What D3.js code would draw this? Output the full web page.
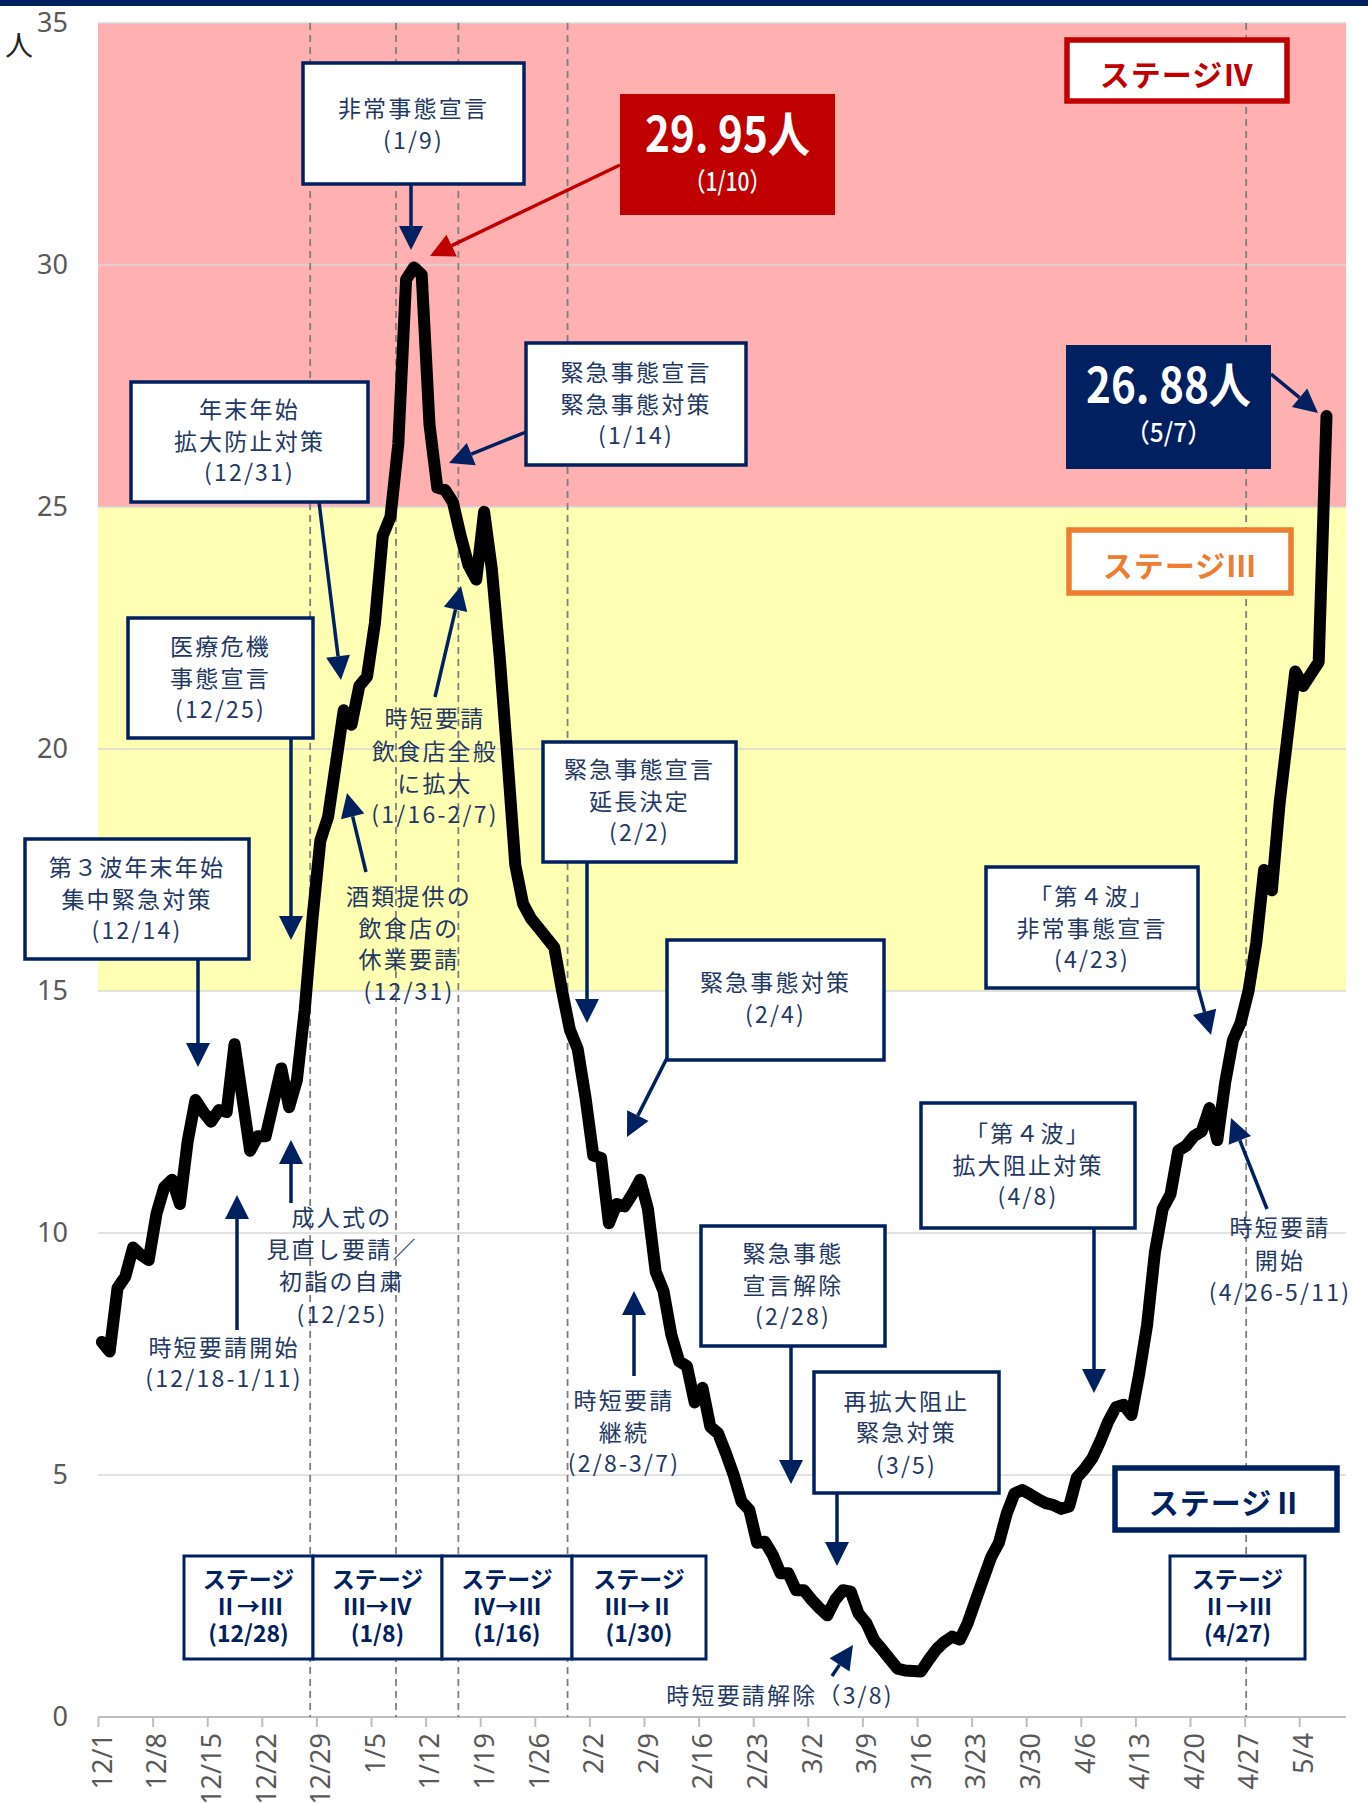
<!DOCTYPE html>
<html>
<head>
<meta charset="utf-8">
<script src="https://cdn.jsdelivr.net/npm/d3@7"></script>
<style>
  html, body { margin: 0; padding: 0; background: #fff; }
  svg { display: block; }
</style>
</head>
<body>
<svg id="chart"></svg>
<script>
// 1日ごとの値 (12/1 〜 5/7)
const startDate = new Date(2020, 11, 1);
const values = [
  7.75, 7.55, 8.86, 9.1, 9.7, 9.55, 9.44, 10.4, 10.95, 11.1,
  10.6, 11.9, 12.75, 12.5, 12.3, 12.54, 12.5, 13.9, 12.8, 11.7,
  12.0, 12.0, 12.7, 13.4, 12.6, 13.16, 14.6, 16.5, 18.1, 18.6,
  19.7, 20.8, 20.5, 21.3, 21.5, 22.6, 24.4, 24.8, 26.3, 29.7,
  29.95, 29.8, 26.7, 25.4, 25.35, 25.1, 24.4, 23.8, 23.5, 24.9,
  23.7, 21.9, 19.8, 17.6, 16.8, 16.5, 16.3, 16.1, 15.9, 15.0,
  14.2, 13.8, 12.8, 11.6, 11.55, 10.2, 10.6, 10.55, 10.8, 11.1,
  10.5, 9.2, 8.8, 7.9, 7.35, 7.25, 6.5, 6.8, 6.0, 5.86,
  5.45, 5.0, 4.45, 4.28, 3.6, 3.62, 3.35, 2.97, 2.97, 2.62,
  2.62, 2.42, 2.25, 2.1, 2.42, 2.62, 2.59, 2.14, 1.94, 1.59,
  1.4, 1.2, 1.0, 0.96, 0.95, 0.94, 1.18, 1.4, 1.55, 1.66,
  1.6, 1.94, 2.4, 2.85, 3.3, 3.6, 4.2, 4.62, 4.69, 4.6,
  4.5, 4.42, 4.38, 4.3, 4.35, 4.95, 5.13, 5.35, 5.7, 6.1,
  6.4, 6.45, 6.24, 7.1, 8.1, 9.6, 10.5, 10.8, 11.7, 11.8,
  12.0, 12.1, 12.58, 11.92, 13.1, 13.98, 14.35, 15.0, 16.0, 17.5,
  17.08, 18.9, 20.25, 21.6, 21.3, 21.55, 21.8, 26.88
];

// 目盛ラベル (7日おき)
const tickLabels = ["12/1","12/8","12/15","12/22","12/29","1/5","1/12","1/19","1/26",
  "2/2","2/9","2/16","2/23","3/2","3/9","3/16","3/23","3/30","4/6","4/13","4/20","4/27","5/4"];
const yTicks = [0, 5, 10, 15, 20, 25, 30, 35];

// ステージの区分
const stageLimits = [15, 25, 35];
const stageDates = ["12/28", "1/8", "1/16", "1/30", "4/27"];
const stageSteps = ["Ⅱ→Ⅲ", "Ⅲ→Ⅳ", "Ⅳ→Ⅲ", "Ⅲ→Ⅱ", "Ⅱ→Ⅲ"];

const NAVY = "#002060";
const TEXT = "#1F3864";
const JP = "'Noto Sans CJK JP', 'Noto Sans', sans-serif";

function dayIndex(md) {
  const [m, d] = md.split("/").map(Number);
  return d3.timeDay.count(startDate, new Date(m === 12 ? 2020 : 2021, m - 1, d));
}

const svg = d3.select("#chart").attr("width", 1368).attr("height", 1805);

const x = d3.scaleLinear().domain([-0.5, 159.5]).range([98, 1346]);
const y = d3.scaleLinear().domain([0, 35]).range([1717, 23]);
const half = (x(1) - x(0)) / 2;

// 上の帯
svg.append("rect").attr("x", 0).attr("y", 0).attr("width", 1368).attr("height", 6).attr("fill", NAVY);

// ステージ背景
svg.append("rect")
  .attr("x", x.range()[0]).attr("width", x.range()[1] - x.range()[0])
  .attr("y", y(stageLimits[2])).attr("height", y(stageLimits[1]) - y(stageLimits[2]))
  .attr("fill", "#FFB0B0");
svg.append("rect")
  .attr("x", x.range()[0]).attr("width", x.range()[1] - x.range()[0])
  .attr("y", y(stageLimits[1])).attr("height", y(stageLimits[0]) - y(stageLimits[1]))
  .attr("fill", "#FFFFB3");

// 横の目盛線
svg.append("g").selectAll("line")
  .data(yTicks.filter(v => v > 0))
  .join("line")
  .attr("x1", x.range()[0]).attr("x2", x.range()[1])
  .attr("y1", d => y(d)).attr("y2", d => y(d))
  .attr("stroke", "#D9D9D9").attr("stroke-width", 1.5);

// y軸
const yAxis = svg.append("g")
  .attr("transform", "translate(68,0)")
  .call(d3.axisLeft(y).tickValues(yTicks).tickSize(0).tickPadding(0));
yAxis.select(".domain").remove();
yAxis.selectAll("text")
  .attr("font-family", "'Noto Sans', sans-serif").attr("font-size", 27).attr("fill", "#595959");

svg.append("text").attr("x", 19).attr("y", 56).attr("text-anchor", "middle")
  .attr("font-family", JP).attr("font-size", 28).attr("fill", "#222").text("人");

// x軸
const xAxis = svg.append("g")
  .attr("transform", `translate(0,${y(0)})`)
  .call(d3.axisBottom(x)
    .tickValues(tickLabels.map((_, i) => i * 7))
    .tickFormat((d, i) => tickLabels[i])
    .tickSizeOuter(0).tickSize(10));
xAxis.select(".domain")
  .attr("d", `M${x.range()[0]},0H${x.range()[1]}`)
  .attr("stroke", "#BFBFBF").attr("stroke-width", 2);
xAxis.selectAll(".tick line")
  .attr("transform", `translate(${-half},0)`)
  .attr("stroke", "#BFBFBF").attr("stroke-width", 2);
xAxis.selectAll(".tick text")
  .attr("transform", "rotate(-90)")
  .attr("text-anchor", "end")
  .attr("x", -16).attr("y", 0).attr("dy", "0.35em")
  .attr("font-family", "'Noto Sans', sans-serif").attr("font-size", 27).attr("fill", "#595959");

// ステージ変更日の点線
svg.append("g").selectAll("line")
  .data(stageDates)
  .join("line")
  .attr("x1", d => x(dayIndex(d) - 0.3)).attr("x2", d => x(dayIndex(d) - 0.3))
  .attr("y1", y(35)).attr("y2", y(0))
  .attr("stroke", "#7F7F7F").attr("stroke-width", 1.8).attr("stroke-dasharray", "7,5");

// 折れ線
const line = d3.line().x((d, i) => x(i)).y(d => y(d));
svg.append("path")
  .datum(values)
  .attr("d", line)
  .attr("fill", "none")
  .attr("stroke", "#000")
  .attr("stroke-width", 12)
  .attr("stroke-linejoin", "round")
  .attr("stroke-linecap", "round");

// 注記
const ann = svg.append("g");

function arrow(x1, y1, x2, y2, color) {
  const a = Math.atan2(y2 - y1, x2 - x1);
  const L = 24, W = 12;
  const bx = x2 - L * Math.cos(a), by = y2 - L * Math.sin(a);
  ann.append("line").attr("x1", x1).attr("y1", y1).attr("x2", bx).attr("y2", by)
    .attr("stroke", color).attr("stroke-width", 3.5);
  const px = -Math.sin(a) * W, py = Math.cos(a) * W;
  ann.append("path")
    .attr("d", `M${x2},${y2}L${bx + px},${by + py}L${bx - px},${by - py}Z`)
    .attr("fill", color);
}

function lines(cx, ys, texts, opt = {}) {
  texts.forEach((t, i) => {
    ann.append("text")
      .attr("x", cx).attr("y", ys[i])
      .attr("text-anchor", "middle").attr("dominant-baseline", "central")
      .attr("font-family", JP)
      .attr("font-size", opt.size || 23)
      .attr("font-weight", opt.weight || 400)
      .attr("letter-spacing", opt.spacing == null ? 2.2 : opt.spacing)
      .attr("fill", opt.color || TEXT)
      .text(t);
  });
}

function box(bx, by, w, h, texts, ys, opt = {}) {
  ann.append("rect").attr("x", bx).attr("y", by).attr("width", w).attr("height", h)
    .attr("fill", opt.fill || "#fff")
    .attr("stroke", opt.stroke || NAVY).attr("stroke-width", opt.sw || 3.5);
  lines(bx + w / 2, ys, texts, opt);
}

const boxes = [
  [303, 63, 221, 121, ["非常事態宣言", "(1/9)"], [107, 139]],
  [131, 382, 237, 120, ["年末年始", "拡大防止対策", "(12/31)"], [408, 440, 471]],
  [526, 343, 220, 122, ["緊急事態宣言", "緊急事態対策", "(1/14)"], [371, 403, 434]],
  [128, 618, 185, 120, ["医療危機", "事態宣言", "(12/25)"], [645, 677, 708]],
  [25, 839, 224, 120, ["第３波年末年始", "集中緊急対策", "(12/14)"], [866, 898, 929]],
  [543, 742, 193, 120, ["緊急事態宣言", "延長決定", "(2/2)"], [768, 800, 831]],
  [667, 940, 217, 120, ["緊急事態対策", "(2/4)"], [981, 1013]],
  [986, 867, 212, 121, ["「第４波」", "非常事態宣言", "(4/23)"], [895, 927, 958]],
  [921, 1103, 214, 125, ["「第４波」", "拡大阻止対策", "(4/8)"], [1132, 1164, 1195]],
  [701, 1226, 184, 120, ["緊急事態", "宣言解除", "(2/28)"], [1252, 1284, 1315]],
  [814, 1372, 185, 121, ["再拡大阻止", "緊急対策", "(3/5)"], [1400, 1431, 1464]]
];
boxes.forEach(b => box(...b));

const notes = [
  [435, ["時短要請", "飲食店全般", "に拡大", "(1/16-2/7)"], [717, 750, 782, 813]],
  [409, ["酒類提供の", "飲食店の", "休業要請", "(12/31)"], [895, 927, 958, 990]],
  [1280, ["時短要請", "開始", "(4/26-5/11)"], [1226, 1259, 1291]],
  [342, ["成人式の", "見直し要請／", "初詣の自粛", "(12/25)"], [1216, 1248, 1280, 1313]],
  [224, ["時短要請開始", "(12/18-1/11)"], [1346, 1377]],
  [624, ["時短要請", "継続", "(2/8-3/7)"], [1399, 1431, 1462]],
  [780, ["時短要請解除（3/8)"], [1694]]
];
notes.forEach(n => lines(n[0], n[2], n[1]));

const arrows = [
  [411, 184, 411, 250], [319, 502, 341, 680], [526, 432, 449, 463], [291, 738, 291, 940],
  [198, 959, 198, 1067], [435, 697, 461, 586], [366, 872, 347, 793], [587, 861, 587, 1023],
  [667, 1058, 627, 1137], [1198, 988, 1211, 1035], [1094, 1228, 1094, 1393], [1267, 1209, 1231, 1118],
  [291, 1203, 291, 1140], [237, 1330, 237, 1195], [634, 1376, 634, 1291], [791, 1346, 791, 1484],
  [837, 1493, 837, 1566], [832, 1676, 853, 1645], [1271, 374, 1318, 413]
];
arrows.forEach(a => arrow(...a, NAVY));
arrow(620, 165, 430, 256, "#C00000");

// 最大値・最新値
const peakIdx = values.indexOf(d3.max(values.slice(0, 60)));
const lastIdx = values.length - 1;
function fmtDate(i) { return d3.timeFormat("%-m/%-d")(d3.timeDay.offset(startDate, i)); }

function bigBox(bx, by, w, h, fill, v, i) {
  ann.append("rect").attr("x", bx).attr("y", by).attr("width", w).attr("height", h).attr("fill", fill);
  ann.append("text")
    .attr("x", bx + w / 2).attr("y", by + 58)
    .attr("text-anchor", "middle")
    .attr("font-family", JP).attr("font-weight", 700).attr("font-size", 48)
    .attr("textLength", 165).attr("lengthAdjust", "spacingAndGlyphs")
    .attr("fill", "#fff")
    .text(v.toFixed(2).replace(".", ". ") + "人");
  ann.append("text")
    .attr("x", bx + w / 2).attr("y", by + 97)
    .attr("text-anchor", "middle")
    .attr("font-family", JP).attr("font-weight", 500).attr("font-size", 26)
    .attr("textLength", 86).attr("lengthAdjust", "spacingAndGlyphs")
    .attr("fill", "#fff")
    .text("（" + fmtDate(i) + "）");
}
bigBox(620, 94, 215, 121, "#C00000", values[peakIdx], peakIdx);
bigBox(1066, 345, 205, 124, NAVY, values[lastIdx], lastIdx);

// ステージ表示
function stageLabel(bx, by, w, h, color, label) {
  ann.append("rect").attr("x", bx).attr("y", by).attr("width", w).attr("height", h)
    .attr("fill", "#fff").attr("stroke", color).attr("stroke-width", 5.5);
  ann.append("text")
    .attr("x", bx + w / 2).attr("y", by + h / 2 + 2)
    .attr("text-anchor", "middle").attr("dominant-baseline", "central")
    .attr("font-family", JP).attr("font-weight", 700).attr("font-size", 30)
    .attr("letter-spacing", 1)
    .attr("fill", color).text(label);
}
stageLabel(1067, 40, 220, 61, "#C00000", "ステージⅣ");
stageLabel(1069, 530, 222, 63, "#ED7D31", "ステージⅢ");
stageLabel(1115, 1468, 222, 62, NAVY, "ステージⅡ");

// ステージ変更の箱 (1つのtextにtspanで3行)
const stageBoxX = [[184, 313], [313, 442], [442, 572], [572, 706], [1170, 1305]];
stageDates.forEach((d, i) => {
  const [l, r] = stageBoxX[i];
  const cx = (l + r) / 2;
  ann.append("rect").attr("x", l).attr("y", 1556).attr("width", r - l).attr("height", 103)
    .attr("fill", "#fff").attr("stroke", NAVY).attr("stroke-width", 3);
  const t = ann.append("text")
    .attr("text-anchor", "middle")
    .attr("font-family", JP).attr("font-weight", 700).attr("font-size", 23)
    .attr("fill", NAVY);
  ["ステージ", stageSteps[i], "(" + d + ")"].forEach((s, k) => {
    t.append("tspan").attr("x", cx).attr("y", 1588 + k * 27).text(s);
  });
});
</script>
</body>
</html>
